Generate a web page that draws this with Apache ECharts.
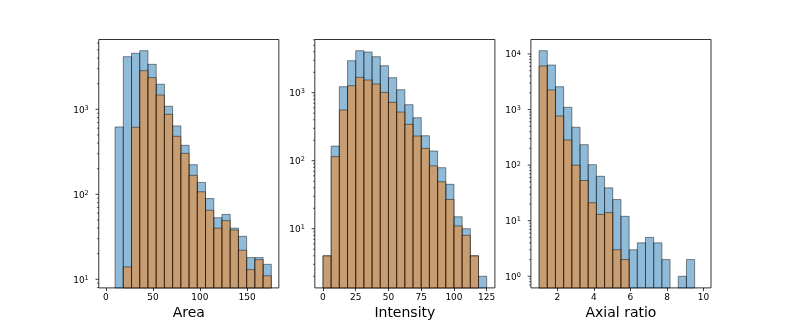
<!DOCTYPE html>
<html><head><meta charset="utf-8">
<script src="https://cdn.jsdelivr.net/npm/echarts@6/dist/echarts.min.js"></script>
<style>html,body{margin:0;padding:0;background:#fff}#c{width:790px;height:329px}</style>
</head><body><div id="c"></div>
<script>
// ---- data (histogram counts per bin, 20 bins each) ----
const xLabels = ['Area', 'Intensity', 'Axial ratio'];

const areaBinStart = 1.1, areaBinWidth = 8.735;
const areaBlue   = [0, 620, 4160, 4560, 4890, 3380, 1970, 1085, 637, 377, 223, 138, 89, 53, 58, 40, 32, 18, 18, 15];
const areaOrange = [0, 0, 14, 614, 2845, 2355, 1472, 873, 481, 303, 167, 107, 65, 40, 49, 38, 22, 13, 17, 11];

const intensityBinStart = 0, intensityBinWidth = 6.25;
const intensityBlue   = [4, 164, 1225, 2955, 4150, 3970, 3385, 2494, 1663, 1107, 667, 429, 233, 139, 79, 45, 15, 10, 4, 2];
const intensityOrange = [4, 115, 557, 1268, 1683, 1538, 1343, 1012, 723, 520, 343, 231, 152, 84, 49, 27, 11, 8, 4, 0];

const axialBinStart = 1.0, axialBinWidth = 0.448;
const axialBlue   = [11480, 6340, 2580, 1100, 481, 234, 102, 63, 39, 24, 12, 3, 4, 5, 4, 2, 0, 1, 2, 0];
const axialOrange = [6090, 2256, 767, 284, 100, 53, 21, 13, 14, 3, 2, 0, 0, 0, 0, 0, 0, 0, 0, 0];

const areaXTicks = [0, 50, 100, 150];
const intensityXTicks = [0, 25, 50, 75, 100, 125];
const axialXTicks = [2, 4, 6, 8, 10];
const areaYTicks = [10, 100, 1000];
const intensityYTicks = [10, 100, 1000];
const axialYTicks = [1, 10, 100, 1000, 10000];

// ---- layout ----
const FONT = 'DejaVu Sans';
const W = 180.1, TOP = 39.5, H = 248.4;
const panels = [
  {left: 98.75, xMin: -7.5, xMax: 183.8, yMin: 7.92, yMax: 6620, start: areaBinStart, width: areaBinWidth,
   blue: areaBlue, orange: areaOrange, xt: areaXTicks, yt: areaYTicks},
  {left: 314.8, xMin: -6.25, xMax: 131.25, yMin: 1.35, yMax: 6060, start: intensityBinStart, width: intensityBinWidth,
   blue: intensityBlue, orange: intensityOrange, xt: intensityXTicks, yt: intensityYTicks},
  {left: 530.9, xMin: 0.552, xMax: 10.408, yMin: 0.618, yMax: 18240, start: axialBinStart, width: axialBinWidth,
   blue: axialBlue, orange: axialOrange, xt: axialXTicks, yt: axialYTicks}
];

function barSeries(i, p, vals, color) {
  const data = [];
  vals.forEach((v, k) => { if (v > 0) data.push([p.start + k * p.width, p.start + (k + 1) * p.width, v]); });
  return {
    type: 'custom', xAxisIndex: i, yAxisIndex: i, data: data, encode: {x: [0, 1], y: 2},
    silent: true, z: 2,
    renderItem: function (params, api) {
      const p0 = api.coord([api.value(0), api.value(2)]);
      const p1 = api.coord([api.value(1), p.yMin]);
      return {type: 'rect', shape: {x: p0[0], y: p0[1], width: p1[0] - p0[0], height: p1[1] - p0[1]},
        style: {fill: color, stroke: 'rgba(0,0,0,0.5)', lineWidth: 0.9}};
    }
  };
}

function yTickSeries(i, p) {
  const data = [];
  p.yt.forEach(v => { if (v >= p.yMin && v <= p.yMax) data.push([p.xMin, v, 1]); });
  const d0 = Math.floor(Math.log10(p.yMin)), d1 = Math.floor(Math.log10(p.yMax));
  for (let d = d0; d <= d1; d++) {
    for (let m = 2; m <= 9; m++) {
      const v = m * Math.pow(10, d);
      if (v >= p.yMin && v <= p.yMax) data.push([p.xMin, v, 0]);
    }
  }
  return {
    type: 'custom', xAxisIndex: i, yAxisIndex: i, data: data, encode: {x: 0, y: 1}, silent: true, z: 5,
    renderItem: function (params, api) {
      const cs = params.coordSys;
      const y = api.coord([api.value(0), api.value(1)])[1];
      const major = api.value(2) === 1;
      const len = major ? 3.2 : 1.8;
      return {type: 'line', shape: {x1: cs.x - len, y1: y, x2: cs.x, y2: y},
        style: {stroke: '#000', lineWidth: major ? 0.75 : 0.6}};
    }
  };
}

const grids = [], xAxes = [], yAxes = [], series = [];
panels.forEach((p, i) => {
  grids.push({left: p.left, top: TOP, width: W, height: H, show: true, borderColor: '#000', borderWidth: 0.8,
    backgroundColor: 'rgba(0,0,0,0)', containLabel: false});
  xAxes.push({
    gridIndex: i, type: 'value', min: p.xMin, max: p.xMax,
    axisLine: {show: false}, splitLine: {show: false},
    axisTick: {show: true, customValues: p.xt, length: 3.2, lineStyle: {color: '#000', width: 0.75}},
    axisLabel: {customValues: p.xt, fontSize: 9, color: '#000', fontFamily: FONT, margin: 5},
    name: xLabels[i], nameLocation: 'middle', nameGap: 16,
    nameTextStyle: {fontSize: 14, color: '#000', fontFamily: FONT}
  });
  yAxes.push({
    gridIndex: i, type: 'log', logBase: 10, min: p.yMin, max: p.yMax,
    axisLine: {show: false}, splitLine: {show: false}, axisTick: {show: false}, minorTick: {show: false},
    axisLabel: {
      margin: 10, color: '#000',
      formatter: function (v) {
        const e = Math.log10(v), r = Math.round(e);
        if (Math.abs(e - r) > 1e-6) return '';
        return '{b|10}{s|' + r + '}';
      },
      rich: {
        b: {fontSize: 9, fontFamily: FONT, color: '#000', lineHeight: 9, padding: [3.5, 0, 1.5, 0]},
        s: {fontSize: 6.5, fontFamily: FONT, color: '#000', lineHeight: 7, verticalAlign: 'top'}
      }
    }
  });
  series.push(barSeries(i, p, p.blue, 'rgba(31,119,180,0.5)'));
  series.push(barSeries(i, p, p.orange, 'rgba(255,127,14,0.5)'));
  series.push(yTickSeries(i, p));
});

const chart = echarts.init(document.getElementById('c'), null, {renderer: 'canvas'});
chart.setOption({
  animation: false, backgroundColor: '#fff',
  grid: grids, xAxis: xAxes, yAxis: yAxes, series: series
});
</script>
</body></html>
